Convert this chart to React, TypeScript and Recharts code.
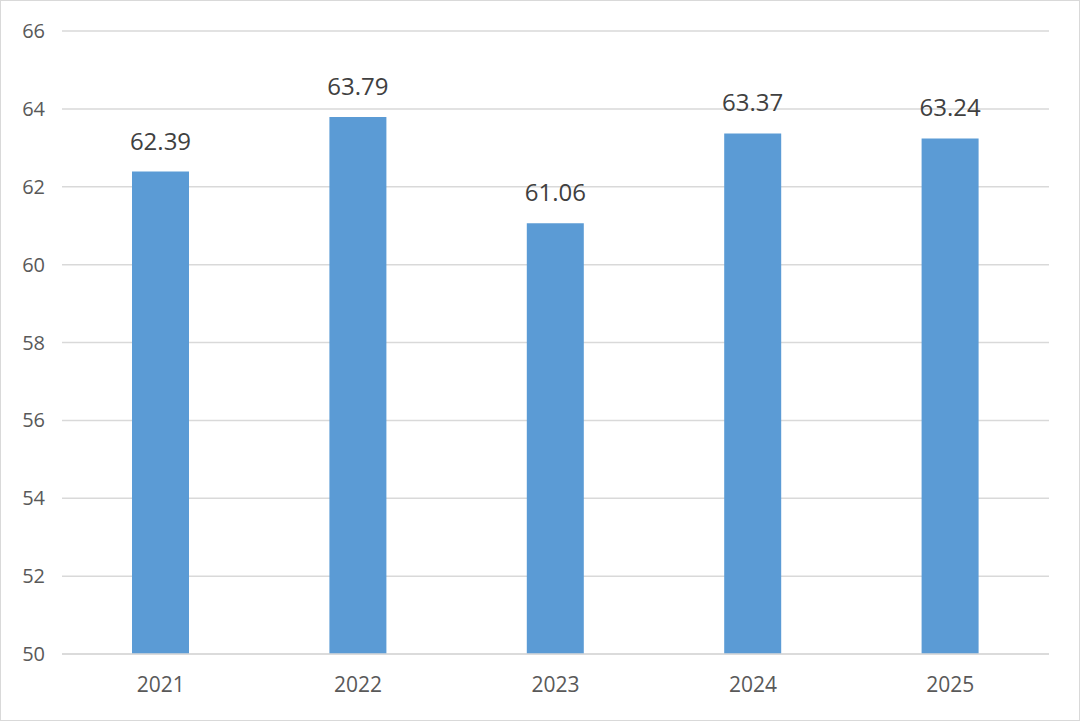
import { BarChart, Bar, XAxis, YAxis, CartesianGrid, LabelList } from 'recharts'

const years = ['2021', '2022', '2023', '2024', '2025']
const values = [62.39, 63.79, 61.06, 63.37, 63.24]
const yTicks = [50, 52, 54, 56, 58, 60, 62, 64, 66]

const data = years.map((year, i) => ({ year, value: values[i] }))

const FONT = '"Open Sans", Calibri, sans-serif'

export default function App() {
  return (
    <div
      style={{
        position: 'absolute',
        top: 0,
        left: 0,
        width: 1080,
        height: 721,
        boxSizing: 'border-box',
        border: '1px solid #d9d9d9',
        background: '#fff',
        fontFamily: FONT,
      }}
    >
      <BarChart
        width={1078}
        height={719}
        data={data}
        margin={{ top: 30, right: 30, bottom: 36, left: 0 }}
        barCategoryGap={0}
      >
        <CartesianGrid vertical={false} stroke="#d9d9d9" strokeWidth={1.5} />
        <XAxis
          dataKey="year"
          height={30}
          axisLine={{ stroke: '#d9d9d9', strokeWidth: 1.5 }}
          tickLine={false}
          tickSize={0}
          tickMargin={23}
          tick={{ fill: '#595959', fontSize: 21, fontFamily: FONT }}
        />
        <YAxis
          width={61}
          domain={[50, 66]}
          ticks={yTicks}
          axisLine={false}
          tickLine={false}
          tickSize={0}
          tickMargin={17}
          tick={{ fill: '#595959', fontSize: 20, fontFamily: FONT }}
        />
        <Bar dataKey="value" fill="#5b9bd5" barSize={57} isAnimationActive={false}>
          <LabelList
            dataKey="value"
            position="top"
            offset={22}
            fill="#404040"
            fontSize={24}
            fontFamily={FONT}
            formatter={(v: number) => v.toFixed(2)}
          />
        </Bar>
      </BarChart>
    </div>
  )
}
